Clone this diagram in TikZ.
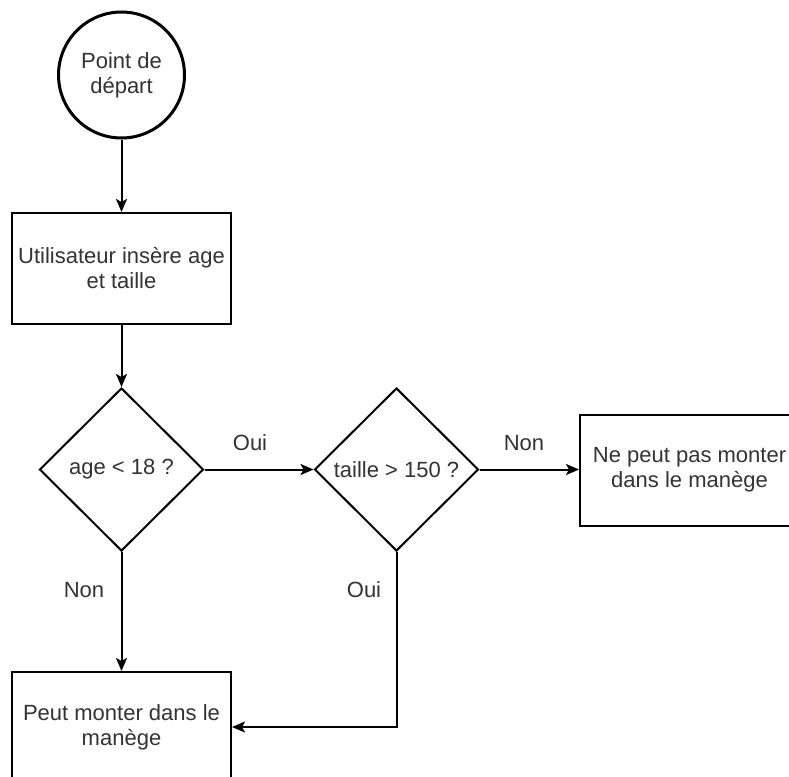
\documentclass[tikz,border=0pt]{standalone}
\usepackage{fontspec}
\setmainfont{Liberation Sans}
\usetikzlibrary{shapes.geometric,arrows.meta}
\definecolor{ink}{HTML}{333333}
\tikzset{
  every node/.style={font=\fontsize{22}{25}\selectfont, text=ink},
  startnode/.style={circle, draw=black, line width=3pt, minimum size=126pt, inner sep=0pt, align=center},
  procbox/.style={rectangle, draw=black, line width=2pt, minimum width=219pt, minimum height=111pt, inner sep=0pt, align=center},
  decision/.style={diamond, draw=black, line width=2pt, minimum width=164pt, minimum height=163pt, inner sep=0pt, align=center},
  flow/.style={draw=black, line width=2pt, -{Stealth[length=13pt,width=11pt,inset=3pt]}},
  edgelabel/.style={inner sep=0pt}
}
\begin{document}
\begin{tikzpicture}[x=1pt,y=-1pt]
  \useasboundingbox (0,0) rectangle (789,776);
  \clip (0,0) rectangle (789,776);
  \fill[white] (0,0) rectangle (789,776);

  % nodes
  \node[startnode] (start) at (121.5,75) {Point de\\départ};
  \node[procbox] (input) at (121.5,268.5) {Utilisateur insère age\\et taille};
  \node[decision] (agetest) at (121.5,469.5) {age < 18 ?};
  \node[decision] (heighttest) at (396.5,469.5) {taille > 150 ?};
  \node[procbox] (refused) at (689.5,470) {Ne peut pas monter\\dans le manège};
  \node[procbox, minimum height=110pt] (allowed) at (121.5,727) {Peut monter dans le\\manège};

  % connectors
  \draw[flow] (start) -- (input);
  \draw[flow] (input) -- (agetest);
  \draw[flow] (agetest.east) -- (heighttest.west);
  \draw[flow] (heighttest.east) -- (refused.west |- heighttest.east);
  \draw[flow] (agetest.south) -- (allowed.north);
  \draw[flow] (heighttest.south) |- (allowed.east);

  % branch labels
  \node[edgelabel] (lblyes1) at (250,443) {Oui};
  \node[edgelabel] (lblno1) at (524,443) {Non};
  \node[edgelabel] (lblno2) at (84,590) {Non};
  \node[edgelabel] (lblyes2) at (364,590) {Oui};
\end{tikzpicture}
\end{document}
